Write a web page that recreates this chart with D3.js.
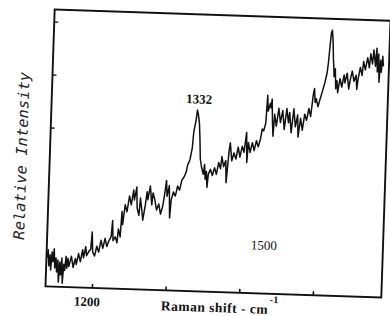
<!DOCTYPE html>
<html>
<head>
<meta charset="utf-8">
<script src="https://cdn.jsdelivr.net/npm/d3@7"></script>
<style>
body { margin: 0; background: #fff; }
</style>
</head>
<body>
<script>
// Raman shift (cm-1) and relative intensity
const shift = [
  1138,1139.1,1140.5,1141.9,1143.2,1144.6,1145.9,1147.3,1148.6,1150,1151.3,1152.7,1154.1,1155.4,1156.8,1158.1,1159.5,1160.8,1162.2,1163.6,1164.9,1166.3,1167.6,1169,
  1170.9,1173.6,1176.3,1177.7,1180.4,1183.1,1185.8,1187.2,1189.9,1191.3,1194,1196.7,1198,1199.4,1202.1,1204.8,1207.5,1210.3,1213,1215.7,1218.4,1221.1,1223.8,1225.2,1226.5,1229.3,1232,1233.3,1236,
  1237.5,1238.8,1241.5,1244.2,1247,1249.7,1252.4,1253.7,1256.5,1257.8,1260.5,1261.9,1264.6,1265.9,1268.7,
  1270.7,1272,1274.8,1277.5,1278.8,1281.5,1284.2,1287,1289.7,1292.4,1295.1,1296.5,1297.8,1300.5,
  1302.2,1303.6,1306.3,1309,1311.7,1314.5,1317.2,1319.9,1322.6,
  1324.5,1327.2,1329.9,1331.2,1333.9,1335.2,1336.6,
  1338.5,1339.9,1341.3,1343.3,1346,1347.4,1348.7,1350.1,1351.5,1352.8,1355.5,1358.3,1361,
  1363.7,1366.4,1369.1,1370.5,1373.2,1375.9,1377.2,1380,1381.3,1384,1386.7,1389.5,1392.2,1394.9,
  1397.6,1400.3,1403,1404.4,1405.8,1408.5,1411.2,1413.9,1416.6,1419.3,1422,1424,1426,1428.5,1429.9,1431.2,1434,
  1435.2,1436.1,1437.5,1438.8,1440.2,1442.9,1445.6,1448.3,1451,1453.7,1456.5,1459.2,1460.5,1463.2,1466,1468.7,1471.4,1472.7,
  1475.5,1478.2,1480.9,1483.6,1486.3,1489,1491.7,1493.1,1494.5,1495.8,1498.5,1501.2,1504,1506.7,1509.4,1510.7,1512.1,1513.5,1514.8,1516.2,
  1517.3,1518.2,1519,1520.4,1521.7,1523.1,1524.5,1527.2,1529.9,1532.6,1534,1536.7,1539.4,1540.8,1543.5,1546.2,1548.9,1550.3,1551.6,1554.3,1557,1558.4,1561.1,1563.8,1566.5,1567.9,1570.6,1572,1574.7,1576,1577.4,1578.7,1580.1,1581.5,1582.8,1584.2,1585.5
];
const intensity = [
  10.9,13.9,7.8,12.0,6.3,13.1,9.4,14.3,7.1,10.9,5.6,10.1,1.8,9.4,4.5,10.9,1.4,8.6,6.3,11.6,7.1,10.9,7.8,9.4,
  11.7,7.5,10.9,8.7,12.8,9.8,14.3,11.3,15.5,12.1,13.6,14.7,21.1,13.6,12.1,15.8,13.6,18.1,15.1,18.9,15.8,18.1,19.6,25.7,18.1,19.6,17.4,22.6,19.6,
  29.2,24.3,31.8,29.2,35.2,31.8,37.5,33.7,38.6,30.7,28.0,34.5,29.2,26.2,31.8,
  37.0,34.0,39.2,32.1,36.6,34.0,30.2,32.5,28.7,31.7,37.7,41.5,35.5,39.6,
  27.4,34.2,37.2,35.7,39.5,38.0,41.8,42.9,44.8,
  47.7,49.5,54.1,60.1,64.6,68.4,66.9,
  63.5,57.5,49.9,46.9,44.3,48.0,42.4,45.4,39.4,44.3,46.2,43.9,46.9,
  44.4,48.9,46.6,51.2,47.4,49.7,41.4,53.4,56.5,49.7,52.7,50.4,54.9,51.2,
  55.3,53.1,60.6,49.3,56.8,53.1,56.8,53.8,57.6,55.3,58.3,62.1,61.4,64.4,74.9,68.9,71.9,
  70.1,73.5,64.8,59.5,67.8,63.3,70.1,64.8,69.3,62.2,70.1,64.8,68.6,61.0,70.1,63.3,67.8,59.5,
  66.6,62.1,68.2,65.9,70.4,67.4,75.7,78.0,72.7,74.2,71.2,74.2,77.2,80.2,84.0,87.8,93.8,99.1,100.2,95.7,
  89.5,86.5,82.7,85.7,78.2,81.2,76.7,82.0,78.9,83.5,80.5,84.2,78.2,81.2,85.0,81.2,83.5,78.2,82.0,86.5,83.5,88.8,85.7,90.3,86.5,91.8,88.0,93.3,87.2,94.0,85.0,91.8,81.2,89.5,85.0,91.0,87.2
];
const xTicks = [1200, 1300, 1400, 1500];
const xTickLabels = ['1200', '', '', ''];
const yTicks = [60, 80, 100];

const data = shift.map((s, i) => ({ s: s, v: intensity[i] }));

const width = 390, height = 316;
const plot = { left: 50, right: 386, top: 15, bottom: 292 };

const svg = d3.select('body').append('svg')
  .attr('width', width)
  .attr('height', height);

// the scan is slightly tilted, so everything sits in a rotated group
const g = svg.append('g')
  .attr('transform', 'rotate(1.9,215,153)');

const x = d3.scaleLinear().domain([1137, 1593]).range([plot.left, plot.right]);
const y = d3.scaleLinear().domain([0, 104.5]).range([plot.bottom, plot.top]);

const xAxis = g.append('g')
  .attr('transform', `translate(0,${plot.bottom})`)
  .call(d3.axisBottom(x)
    .tickValues(xTicks)
    .tickSizeInner(-4)
    .tickSizeOuter(0)
    .tickPadding(9)
    .tickFormat((d, i) => xTickLabels[i]));
xAxis.select('.domain').remove();
xAxis.selectAll('line').attr('stroke', '#111').attr('stroke-width', 1.6);
xAxis.selectAll('text')
  .attr('dx', -5)
  .attr('font-family', '"Liberation Serif", "Times New Roman", serif')
  .attr('font-size', 13)
  .attr('font-weight', 'bold')
  .attr('fill', '#111');

const yAxis = g.append('g')
  .attr('transform', `translate(${plot.left},0)`)
  .call(d3.axisLeft(y)
    .tickValues(yTicks)
    .tickSizeInner(-4)
    .tickSizeOuter(0)
    .tickFormat(''));
yAxis.select('.domain').remove();
yAxis.selectAll('line').attr('stroke', '#111').attr('stroke-width', 1.3);

// frame
g.append('rect')
  .attr('x', plot.left)
  .attr('y', plot.top)
  .attr('width', plot.right - plot.left)
  .attr('height', plot.bottom - plot.top)
  .attr('fill', 'none')
  .attr('stroke', '#111')
  .attr('stroke-width', 1.9);

const line = d3.line()
  .x(d => x(d.s))
  .y(d => y(d.v));

g.append('path')
  .datum(data)
  .attr('d', line)
  .attr('fill', 'none')
  .attr('stroke', '#111')
  .attr('stroke-width', 1.5)
  .attr('stroke-linejoin', 'round');

// peak label
g.append('text')
  .attr('x', x(1337))
  .attr('y', y(70.9))
  .attr('text-anchor', 'middle')
  .attr('font-family', '"Liberation Serif", "Times New Roman", serif')
  .attr('font-size', 13)
  .attr('font-weight', 'bold')
  .attr('fill', '#111')
  .text('1332');

// stray 1500 label inside the plot
g.append('text')
  .attr('x', x(1431.5))
  .attr('y', y(16.6))
  .attr('text-anchor', 'middle')
  .attr('font-family', '"Liberation Serif", "Times New Roman", serif')
  .attr('font-size', 13)
  .attr('fill', '#111')
  .text('1500');

// x axis title
const xt = g.append('text')
  .attr('x', 166)
  .attr('y', 312)
  .attr('font-family', '"Liberation Serif", "Times New Roman", serif')
  .attr('font-size', 13.5)
  .attr('font-weight', 'bold')
  .attr('letter-spacing', 0.5)
  .attr('fill', '#111');
xt.append('tspan').text('Raman shift - cm');
xt.append('tspan')
  .attr('dy', -11)
  .attr('dx', 1)
  .attr('font-size', 10)
  .text('-1');

// y axis title
g.append('text')
  .attr('transform', 'translate(27,162) rotate(-90)')
  .attr('text-anchor', 'middle')
  .attr('font-family', '"DejaVu Sans Mono", monospace')
  .attr('font-style', 'italic')
  .attr('font-size', 15)
  .attr('letter-spacing', 0.3)
  .attr('fill', '#222')
  .text('Relative Intensity');
</script>
</body>
</html>
